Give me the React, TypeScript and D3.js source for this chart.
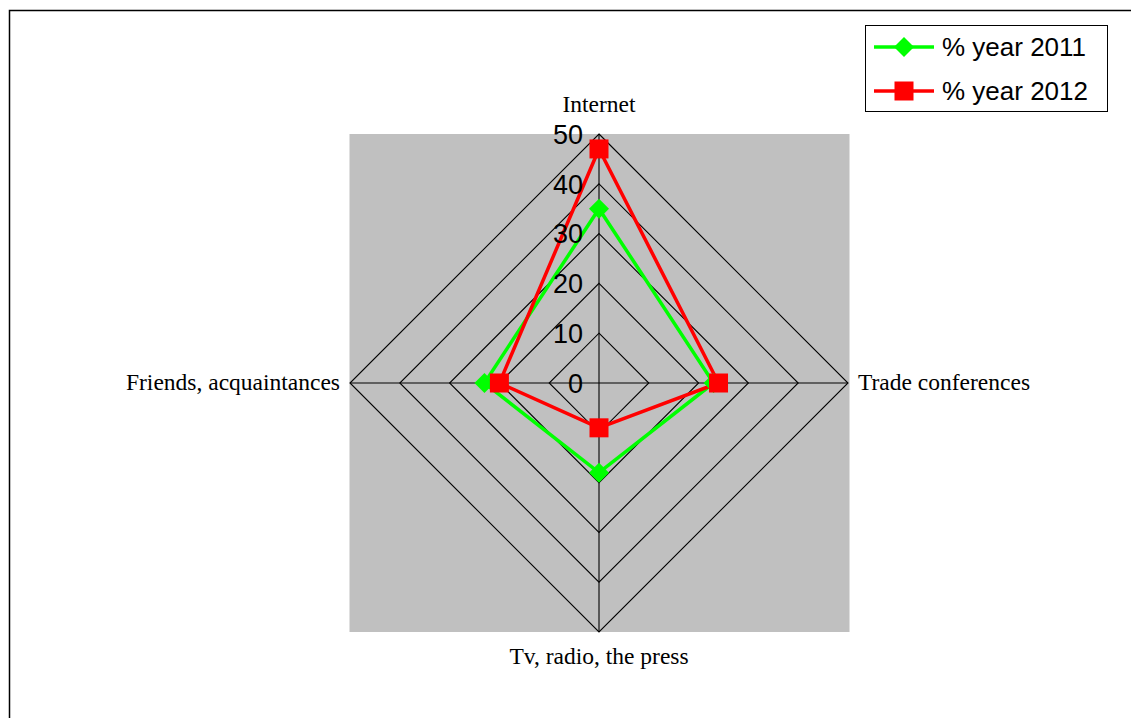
import React from "react";
import * as d3 from "d3";

const categories = ["Internet", "Trade conferences", "Tv, radio, the press", "Friends, acquaintances"];
const year2011 = [35, 23, 18, 23];
const year2012 = [47, 24, 9, 20];
const ticks = [0, 10, 20, 30, 40, 50];
const seriesNames = ["% year 2011", "% year 2012"];

const W = 1131;
const H = 718;
const cx = 599;
const cy = 383;
const R = 249;

const App = () => {
    const r = d3.scaleLinear().domain([0, 50]).range([0, R]);
    const angle = (i) => (i / categories.length) * 2 * Math.PI;
    const pt = (v, i) => [cx + r(v) * Math.sin(angle(i)), cy - r(v) * Math.cos(angle(i))];
    const line = d3.line().curve(d3.curveLinearClosed);

    const series = [
        { name: seriesNames[0], values: year2011, color: "#00ff00", marker: "diamond" },
        { name: seriesNames[1], values: year2012, color: "#ff0000", marker: "square" },
    ];

    const marker = (m, x, y, color, key) =>
        m === "square" ? (
            <rect key={key} x={x - 9.5} y={y - 9.5} width={19} height={19} fill={color} />
        ) : (
            <path key={key} d={`M${x},${y - 10}L${x + 10},${y}L${x},${y + 10}L${x - 10},${y}Z`} fill={color} />
        );

    // label positions for the categories
    const labelPos = [
        { x: cx, y: cy - R - 22, anchor: "middle" },
        { x: cx + R + 10, y: cy + 7, anchor: "start" },
        { x: cx, y: cy + R + 32, anchor: "middle" },
        { x: cx - R - 10, y: cy + 7, anchor: "end" },
    ];

    return (
        <svg width={W} height={H} style={{ position: "absolute", left: 0, top: 0, background: "#fff" }}>
            <rect x={9.5} y={10.5} width={1300} height={900} fill="#fff" stroke="#000" strokeWidth={1.5} />
            <rect x={cx - R - 0.5} y={cy - R} width={2 * R + 2} height={2 * R} fill="#c0c0c0" />
            {ticks.slice(1).map((t) => (
                <path key={t}
                    d={line(categories.map((_, i) => pt(t, i)))}
                    fill="none" stroke="#000" strokeWidth={1.1} />
            ))}
            {categories.map((_, i) => {
                const [x, y] = pt(50, i);
                return <line key={i} x1={cx} y1={cy} x2={x} y2={y} stroke="#000" strokeWidth={1.1} />;
            })}
            {series.map((s) => (
                <path key={s.name} d={line(s.values.map((v, i) => pt(v, i)))}
                    fill="none" stroke={s.color} strokeWidth={3.5} strokeLinejoin="miter" />
            ))}
            {series.map((s) => (
                <g key={s.name}>
                    {s.values.map((v, i) => {
                        const [x, y] = pt(v, i);
                        return marker(s.marker, x, y, s.color, i);
                    })}
                </g>
            ))}
            {ticks.map((t) => (
                <text key={t} x={cx - 16} y={cy - r(t)} dy="0.36em" textAnchor="end"
                    fontFamily="Liberation Sans, Arial, sans-serif" fontSize={27} fill="#000">
                    {t}
                </text>
            ))}
            {categories.map((c, i) => (
                <text key={c} x={labelPos[i].x} y={labelPos[i].y} textAnchor={labelPos[i].anchor}
                    fontFamily="Liberation Serif, Times New Roman, serif" fontSize={23.5} fill="#000">
                    {c}
                </text>
            ))}
            <g>
                <rect x={865.5} y={25.5} width={242} height={86} fill="#fff" stroke="#000" strokeWidth={1} />
                {series.map((s, i) => {
                    const y = 47 + i * 44;
                    return (
                        <g key={s.name}>
                            <line x1={874} x2={934} y1={y} y2={y} stroke={s.color} strokeWidth={3.5} />
                            {marker(s.marker, 904, y, s.color, "m")}
                            <text x={942} y={y} dy="0.36em" fontFamily="Liberation Sans, Arial, sans-serif"
                                fontSize={26} fill="#000">
                                {s.name}
                            </text>
                        </g>
                    );
                })}
            </g>
        </svg>
    );
};

export default App;
